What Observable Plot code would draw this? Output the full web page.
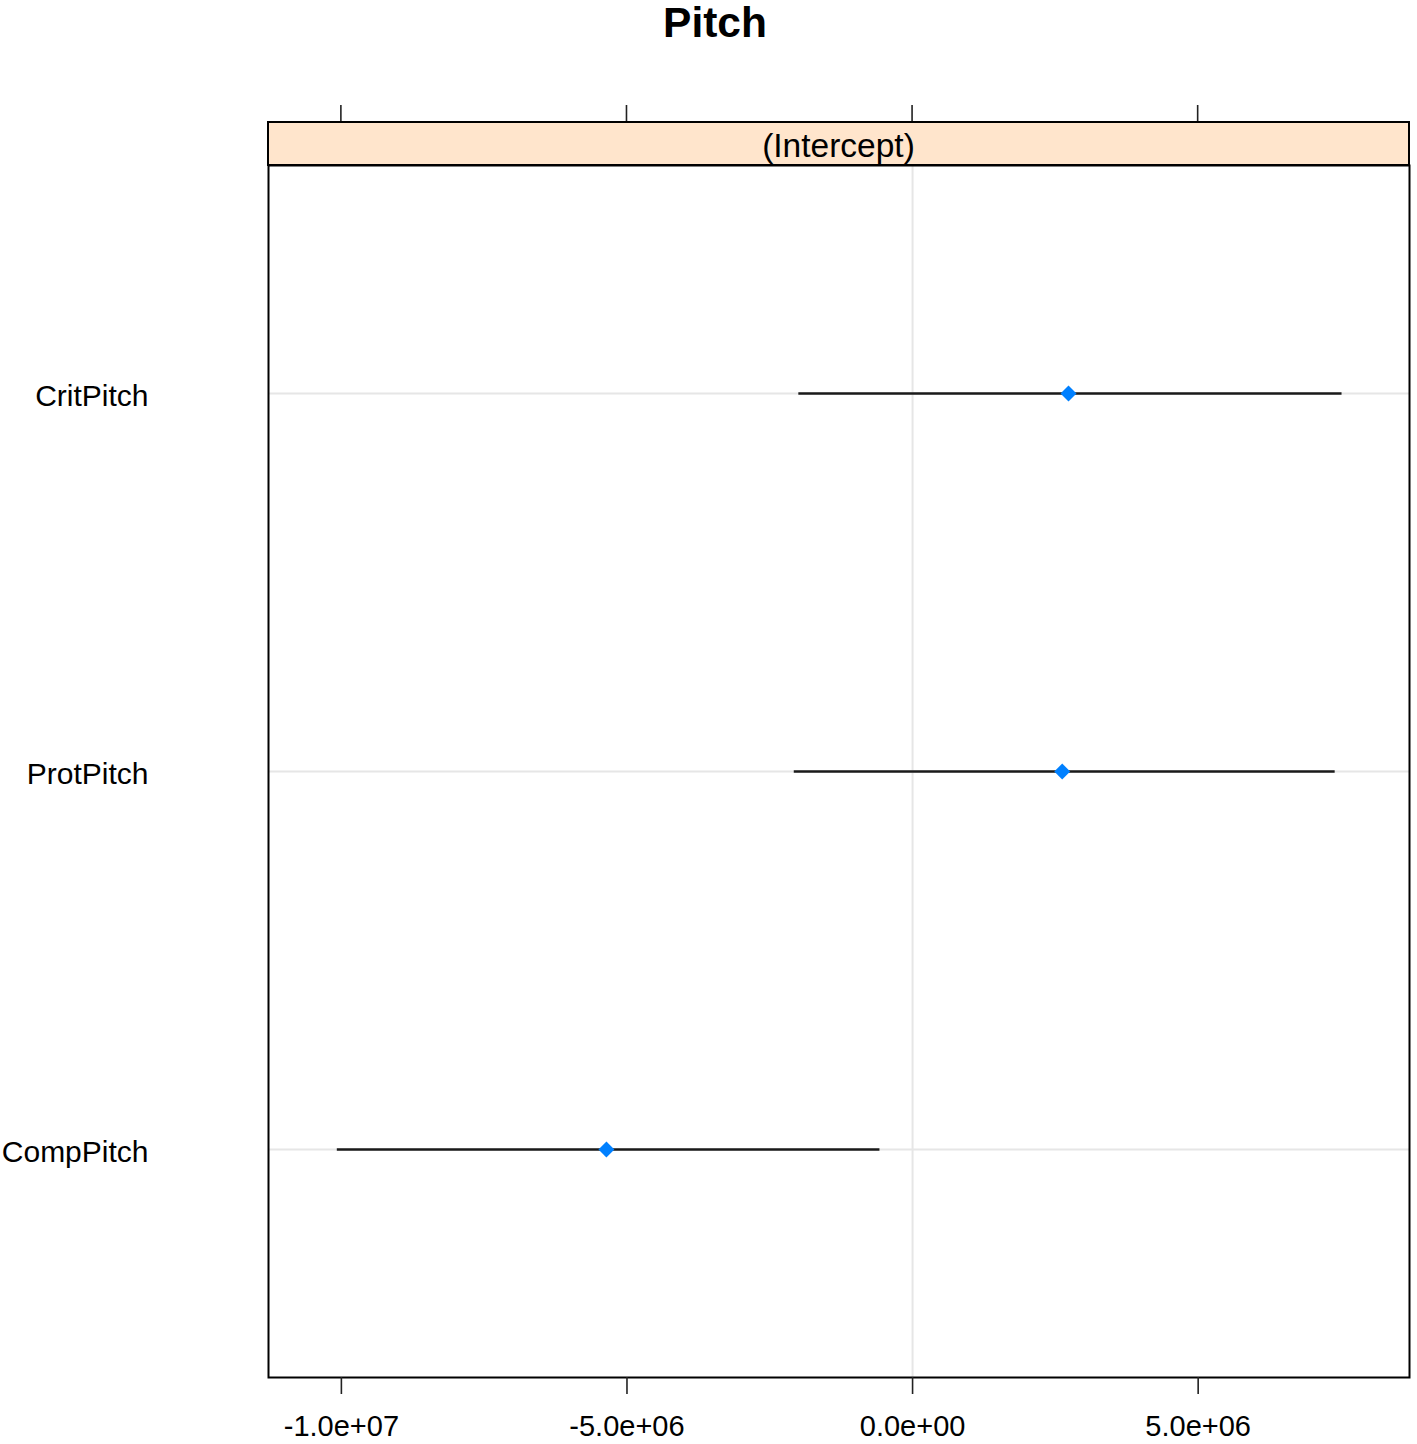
<!DOCTYPE html>
<html>
<head>
<meta charset="utf-8">
<script src="https://cdn.jsdelivr.net/npm/d3@7"></script>
<script src="https://cdn.jsdelivr.net/npm/@observablehq/plot@0.6"></script>
<style>
  html, body { margin: 0; padding: 0; background: #fff; }
  #wrap { position: relative; width: 1417px; height: 1444px; overflow: hidden; font-family: "Liberation Sans", Arial, sans-serif; }
  #title { position: absolute; top: 1.5px; left: 715px; transform: translateX(-50%); font-size: 42.5px; line-height: 42px; font-weight: bold; color: #000; white-space: nowrap; }
  #chart { position: absolute; top: 60px; left: 0; }
</style>
</head>
<body>
<div id="wrap">
  <div id="title">Pitch</div>
  <div id="chart"></div>
</div>
<script>
// Data
const categories = ["CritPitch", "ProtPitch", "CompPitch"]; // top to bottom
const estimates  = [2.73e6, 2.62e6, -5.36e6];
const lower      = [-2.0e6, -2.08e6, -1.008e7];
const upper      = [7.51e6, 7.39e6, -0.58e6];
const xTicks      = [-1e7, -5e6, 0, 5e6];
const xTickLabels = ["-1.0e+07", "-5.0e+06", "0.0e+00", "5.0e+06"];
const stripLabel = "(Intercept)";

const rows = categories.map((c, i) => ({cat: c, est: estimates[i], lo: lower[i], hi: upper[i]}));

const W = 1417, H = 1384;
const mTop = 105, mBottom = 67, mLeft = 268, mRight = 8;
const stripH = 43;
const font = "Liberation Sans, Arial, sans-serif";

function stripMark(index, scales, values, dims) {
  const ns = "http://www.w3.org/2000/svg";
  const g = document.createElementNS(ns, "g");
  const x0 = dims.marginLeft, x1 = dims.width - dims.marginRight;
  const y1 = dims.marginTop, y0 = y1 - stripH;
  // top ticks
  for (const v of xTicks) {
    const px = scales.x(v);
    const l = document.createElementNS(ns, "line");
    l.setAttribute("x1", px); l.setAttribute("x2", px);
    l.setAttribute("y1", y0); l.setAttribute("y2", y0 - 17);
    l.setAttribute("stroke", "#222"); l.setAttribute("stroke-width", 1.6);
    g.appendChild(l);
  }
  const r = document.createElementNS(ns, "rect");
  r.setAttribute("x", x0); r.setAttribute("y", y0);
  r.setAttribute("width", x1 - x0); r.setAttribute("height", stripH);
  r.setAttribute("fill", "#ffe5cc"); r.setAttribute("stroke", "#000"); r.setAttribute("stroke-width", 2);
  g.appendChild(r);
  const t = document.createElementNS(ns, "text");
  t.setAttribute("x", (x0 + x1) / 2); t.setAttribute("y", y0 + 35);
  t.setAttribute("text-anchor", "middle");
  t.setAttribute("font-size", 33.5); t.setAttribute("font-family", font); t.setAttribute("fill", "#000");
  t.textContent = stripLabel;
  g.appendChild(t);
  return g;
}

const chart = Plot.plot({
  width: W, height: H,
  marginTop: mTop, marginBottom: mBottom, marginLeft: mLeft, marginRight: mRight,
  style: {fontFamily: font, background: "transparent", color: "#000"},
  x: {domain: [-1.1276e7, 8.7e6]},
  y: {type: "point", domain: categories, padding: 0.6},
  marks: [
    Plot.ruleY(categories, {stroke: "#e6e6e6", strokeWidth: 2}),
    Plot.ruleX([0], {stroke: "#e6e6e6", strokeWidth: 2}),
    Plot.link(rows, {x1: "lo", x2: "hi", y1: "cat", y2: "cat", stroke: "#1a1a1a", strokeWidth: 2.7}),
    Plot.dot(rows, {x: "est", y: "cat", symbol: "diamond2", r: 7.2, fill: "#0080ff", stroke: "none"}),
    Plot.frame({stroke: "#000", strokeWidth: 2}),
    Plot.axisX({anchor: "bottom", ticks: xTicks, tickSize: 17, tickPadding: 21, strokeWidth: 1.6, stroke: "#222",
      tickFormat: d => xTickLabels[xTicks.indexOf(d)], fontSize: 29, label: null}),
    Plot.axisY({anchor: "left", tickSize: 0, tickPadding: 120, fontSize: 30, dy: 3, label: null}),
    stripMark
  ]
});
document.getElementById("chart").appendChild(chart);
</script>
</body>
</html>
